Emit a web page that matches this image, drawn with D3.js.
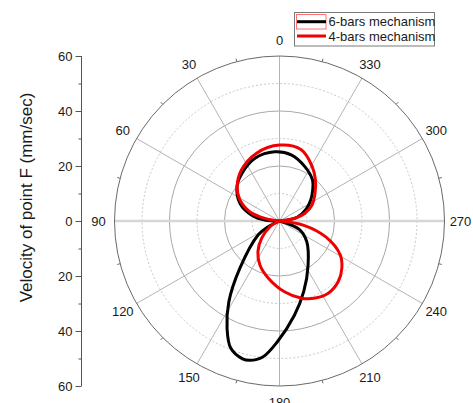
<!DOCTYPE html>
<html><head><meta charset="utf-8">
<script src="https://cdn.jsdelivr.net/npm/d3@7"></script>
<style>body{margin:0;background:#fff}svg{display:block;font-family:"Liberation Sans",Arial,sans-serif}</style>
</head><body><svg id="c" width="473" height="403"></svg>
<script>
// ---- data (angle in degrees, counter-clockwise from top; velocity in mm/sec)
const angle6 = [4, 21, 38, 51, 66, 78, 86, 91, 112, 117, 123, 140, 148, 154, 159, 165, 168, 173, 179, 189, 199, 213, 233, 247, 266, 276, 282, 294, 304, 313, 321, 335, 350];
const vel6   = [25.2, 24.5, 22.1, 19.9, 15.7, 10.3, 5.3, 0, 0, 4.6, 9.2, 22.4, 34.8, 43.5, 49.5, 51.9, 51.8, 49.8, 43.9, 34.7, 27.1, 19.1, 12.4, 7.8, 0, 0, 6.6, 10.6, 13.7, 16.5, 19.1, 21.8, 24.4];
const angle4 = [0, 19, 37, 51, 62, 73, 80, 86, 116, 121, 134, 145, 156, 169, 184, 196, 205, 214, 224, 233, 241, 251, 260, 271, 276, 280, 287, 296, 308, 319, 329, 343];
const vel4   = [27.6, 26.0, 23.1, 19.8, 16.3, 11.2, 5.4, 0, 0, 4.0, 9.0, 13.7, 17.5, 21.2, 25.8, 29.2, 30.9, 31.7, 30.7, 28.4, 25.2, 17.8, 9.0, 0, 0, 5.7, 9.7, 13.1, 16.4, 19.9, 23.1, 27.1];
const seriesNames = ["6-bars mechanism", "4-bars mechanism"];
const angleTicks = [0, 30, 60, 90, 120, 150, 180, 210, 240, 270, 300, 330];
const radialMajor = [20, 40];
const radialMinor = [10, 30, 50];
const yTicks = [-60, -40, -20, 0, 20, 40, 60];
const yMinor = [-50, -30, -10, 10, 30, 50];

const svg = d3.select("#c");
const cx = 279.5, cy = 221, R = 165;
const r = d3.scaleLinear().domain([0, 60]).range([0, R]);
const rad = d => -d * Math.PI / 180;
const g = svg.append("g").attr("transform", `translate(${cx},${cy})`);

// minor (dotted) circles
g.selectAll(".cm").data(radialMinor).join("circle")
  .attr("r", d => r(d)).attr("fill", "none").attr("stroke", "#c8c8c8")
  .attr("stroke-width", 1).attr("stroke-dasharray", "2,2");
// major circles
g.selectAll(".cM").data(radialMajor).join("circle")
  .attr("r", d => r(d)).attr("fill", "none").attr("stroke", "#a8a8a8").attr("stroke-width", 1);

// spokes
g.selectAll(".sp").data(angleTicks.filter(a => a % 180 !== 90)).join("line")
  .attr("x1", 0).attr("y1", 0)
  .attr("x2", d => r(60) * Math.sin(rad(d))).attr("y2", d => -r(60) * Math.cos(rad(d)))
  .attr("stroke", "#b4b4b4").attr("stroke-width", 1);
// horizontal radial axis 90-270
g.append("line").attr("x1", -r(60)).attr("x2", r(60)).attr("y1", 0).attr("y2", 0)
  .attr("stroke", "#d6d6d6").attr("stroke-width", 2.5);

// outer circle
g.append("circle").attr("r", r(60)).attr("fill", "none").attr("stroke", "#6a6a6a").attr("stroke-width", 1);
// minor ticks on outer circle
g.selectAll(".ot").data(d3.range(15, 360, 30)).join("line")
  .attr("x1", d => r(60) * Math.sin(rad(d))).attr("y1", d => -r(60) * Math.cos(rad(d)))
  .attr("x2", d => (r(60) + 3) * Math.sin(rad(d))).attr("y2", d => -(r(60) + 3) * Math.cos(rad(d)))
  .attr("stroke", "#6a6a6a").attr("stroke-width", 1);

// angle labels
g.selectAll(".al").data(angleTicks).join("text")
  .attr("x", d => (R + 16) * Math.sin(rad(d)))
  .attr("y", d => -(R + 16) * Math.cos(rad(d)))
  .attr("text-anchor", "middle").attr("dominant-baseline", "central")
  .attr("font-size", 13).attr("fill", "#1a1a1a").text(d => d);

// series
const line = d3.lineRadial().curve(d3.curveCatmullRomClosed.alpha(0.5))
  .angle(d => rad(d[0])).radius(d => r(d[1]));
const s6 = angle6.map((a, i) => [a, vel6[i]]);
const s4 = angle4.map((a, i) => [a, vel4[i]]);
g.append("path").attr("d", line(s6)).attr("fill", "none").attr("stroke", "#000").attr("stroke-width", 3).attr("stroke-linejoin", "round");
g.append("path").attr("d", line(s4)).attr("fill", "none").attr("stroke", "#f00000").attr("stroke-width", 3).attr("stroke-linejoin", "round");

// left axis
const y = d3.scaleLinear().domain([-60, 60]).range([cy + R, cy - R]);
const ax = svg.append("g").attr("transform", "translate(81.5,0)");
ax.call(d3.axisLeft(y).tickValues(yTicks).tickSize(6).tickPadding(3).tickFormat(d => Math.abs(d)));
ax.append("g").call(d3.axisLeft(y).tickValues(yMinor).tickSize(3).tickFormat(""));
ax.selectAll(".domain").attr("stroke", "#555").attr("d", `M0,${cy - R}V${cy + R}`);
ax.selectAll(".tick line").attr("stroke", "#555");
ax.selectAll("text").attr("font-size", 13).attr("fill", "#1a1a1a").attr("font-family", "Liberation Sans, Arial, sans-serif");

svg.append("text").attr("transform", "translate(32,197.5) rotate(-90)")
  .attr("text-anchor", "middle").attr("font-size", 17).attr("fill", "#1a1a1a")
  .text("Velocity of point F (mm/sec)");

// legend
const lg = svg.append("g");
lg.append("rect").attr("x", 294.5).attr("y", 12.5).attr("width", 140).attr("height", 33.5)
  .attr("fill", "#fff").attr("stroke", "#7a7a7a").attr("stroke-width", 1);
lg.append("rect").attr("x", 296.5).attr("y", 14.5).attr("width", 29.5).attr("height", 14.5)
  .attr("fill", "none").attr("stroke", "#ff7070").attr("stroke-width", 1);
const colors = ["#000", "#f00000"];
seriesNames.forEach((n, i) => {
  const yy = 21.7 + i * 14.3;
  lg.append("line").attr("x1", 297).attr("x2", 326).attr("y1", yy).attr("y2", yy)
    .attr("stroke", colors[i]).attr("stroke-width", 3);
  lg.append("text").attr("x", 328.5).attr("y", yy).attr("dominant-baseline", "central")
    .attr("font-size", 13).attr("fill", "#1a1a1a").text(n);
});
</script></body></html>
